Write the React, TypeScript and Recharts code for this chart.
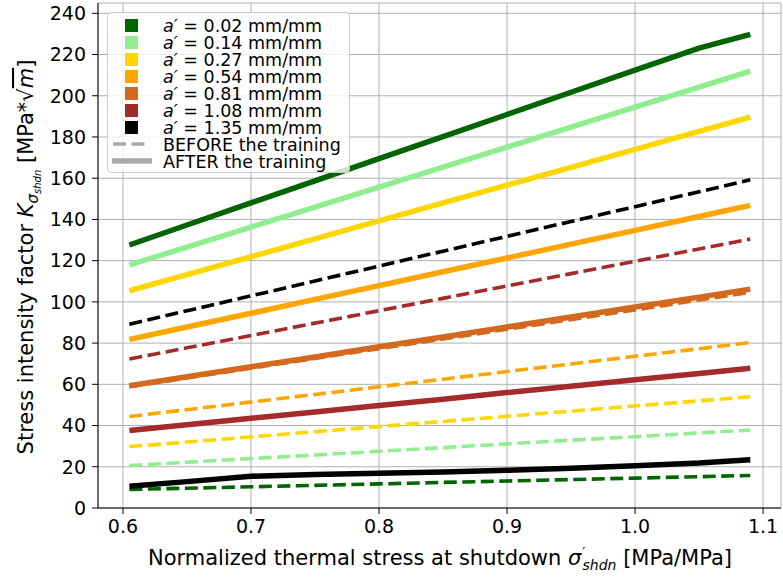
import { CartesianGrid, Label, Legend, Line, LineChart, XAxis, YAxis } from "recharts";

const FONT = "DejaVu Sans, sans-serif";

const STRESS = [0.605, 0.65, 0.7, 0.75, 0.8, 0.85, 0.9, 0.95, 1.0, 1.05, 1.09];
const CRACK_DEPTHS = ["0.02", "0.14", "0.27", "0.54", "0.81", "1.08", "1.35"];
const COLORS = ["#006400", "#90ee90", "#ffd700", "#ffa500", "#d2691e", "#a52a2a", "#000000"];

// K before the training (dashed)
const BEFORE_002 = [9.0, 9.6, 10.3, 11.0, 11.7, 12.4, 13.1, 13.8, 14.5, 15.2, 15.8];
const BEFORE_014 = [20.6, 22.2, 24.0, 25.7, 27.5, 29.3, 31.1, 32.9, 34.6, 36.4, 37.8];
const BEFORE_027 = [29.8, 32.0, 34.5, 37.0, 39.5, 42.0, 44.5, 47.0, 49.5, 52.0, 54.0];
const BEFORE_054 = [44.4, 47.7, 51.4, 55.1, 58.8, 62.5, 66.2, 69.9, 73.6, 77.3, 80.3];
const BEFORE_081 = [58.8, 63.1, 67.8, 72.6, 77.3, 82.0, 86.7, 91.4, 96.1, 100.9, 104.6];
const BEFORE_108 = [72.3, 77.7, 83.7, 89.7, 95.7, 101.7, 107.7, 113.7, 119.7, 125.7, 130.5];
const BEFORE_135 = [89.2, 95.7, 102.9, 110.1, 117.4, 124.6, 131.8, 139.0, 146.2, 153.4, 159.2];

// K after the training (solid)
const AFTER_002 = [127.6, 137.3, 148.0, 158.7, 169.5, 180.2, 190.9, 201.7, 212.4, 223.1, 229.8];
const AFTER_014 = [117.9, 126.6, 136.3, 146.0, 155.7, 165.4, 175.1, 184.8, 194.5, 204.2, 212.0];
const AFTER_027 = [105.4, 113.2, 121.9, 130.6, 139.3, 148.0, 156.6, 165.3, 174.0, 182.7, 189.6];
const AFTER_054 = [81.8, 87.8, 94.5, 101.2, 107.9, 114.6, 121.3, 128.0, 134.7, 141.4, 146.8];
const AFTER_081 = [59.3, 63.7, 68.5, 73.3, 78.2, 83.0, 87.8, 92.7, 97.5, 102.3, 106.2];
const AFTER_108 = [37.6, 40.4, 43.5, 46.6, 49.7, 52.8, 56.0, 59.1, 62.2, 65.3, 67.8];
const AFTER_135 = [10.5, 12.8, 15.4, 16.3, 16.9, 17.5, 18.3, 19.3, 20.5, 21.8, 23.4];

const X_TICKS = [0.6, 0.7, 0.8, 0.9, 1.0, 1.1];
const Y_TICKS = [0, 20, 40, 60, 80, 100, 120, 140, 160, 180, 200, 220, 240];

const BEFORE = [BEFORE_002, BEFORE_014, BEFORE_027, BEFORE_054, BEFORE_081, BEFORE_108, BEFORE_135];
const AFTER = [AFTER_002, AFTER_014, AFTER_027, AFTER_054, AFTER_081, AFTER_108, AFTER_135];

const data = STRESS.map((x, i) => {
  const row: Record<string, number> = { x };
  BEFORE.forEach((s, k) => (row[`b${k}`] = s[i]));
  AFTER.forEach((s, k) => (row[`a${k}`] = s[i]));
  return row;
});

const tickStyle = { fill: "#000", fontSize: 19, fontFamily: FONT };

function LegendBox() {
  return (
    <div
      style={{
        width: 243,
        height: 161,
        border: "1px solid #cccccc",
        borderRadius: 4,
        background: "rgba(255,255,255,0.8)",
        boxSizing: "border-box",
      }}
    >
      <svg width={241} height={159} style={{ display: "block" }} fontFamily={FONT} fontSize={17.5}>
        {CRACK_DEPTHS.map((a, k) => (
          <rect key={a} x={17} y={6 + k * 17} width={13} height={13} fill={COLORS[k]} />
        ))}
        <line x1={5} x2={37} y1={131} y2={131} stroke="#a9a9a9" strokeWidth={3.6} strokeDasharray="13 5.5" />
        <line x1={4} x2={44} y1={148} y2={148} stroke="#a9a9a9" strokeWidth={5.5} />
        <text y={19} fill="#000">
          {CRACK_DEPTHS.map((a, k) => (
            <tspan key={a} x={55} dy={k === 0 ? 0 : 17}>
              <tspan fontStyle="italic">a′</tspan> = {a} mm/mm
            </tspan>
          ))}
          <tspan x={55} dy={17}>BEFORE the training</tspan>
          <tspan x={55} dy={17}>AFTER the training</tspan>
        </text>
      </svg>
    </div>
  );
}

function XTitle() {
  return (
    <text x={440} y={565} textAnchor="middle" fontFamily={FONT} fontSize={21} fill="#000">
      Normalized thermal stress at shutdown{" "}
      <tspan fontStyle="italic">σ</tspan>
      <tspan fontSize={14} dx={1} dy={-8}>′</tspan>
      <tspan fontSize={14} fontStyle="italic" dx={-3} dy={13}>shdn</tspan>
      <tspan dy={-5}> [MPa/MPa]</tspan>
    </text>
  );
}

function YTitle() {
  return (
    <text
      x={33}
      y={257}
      transform="rotate(-90, 33, 257)"
      textAnchor="middle"
      fontFamily={FONT}
      fontSize={21}
      fill="#000"
    >
      Stress intensity factor <tspan fontStyle="italic">K</tspan>
      <tspan fontStyle="italic" fontSize={15} dy={5}>σ</tspan>
      <tspan fontStyle="italic" fontSize={10} dy={3}>shdn</tspan>
      <tspan dy={-8}> [MPa*√</tspan>
      <tspan fontStyle="italic" textDecoration="overline">m</tspan>
      <tspan>]</tspan>
    </text>
  );
}

export default function App() {
  return (
    <div style={{ position: "absolute", left: 0, top: 0, background: "#fff" }}>
      <LineChart width={783} height={579} data={data} margin={{ top: 3, right: 2, bottom: 0, left: 0 }}>
        <CartesianGrid stroke="#b0b0b0" strokeWidth={1} />
        <XAxis
          dataKey="x"
          type="number"
          domain={[0.5805, 1.114]}
          ticks={X_TICKS}
          tickFormatter={(v: number) => v.toFixed(1)}
          allowDataOverflow
          height={71}
          tick={tickStyle}
          tickSize={6}
          tickMargin={6}
          tickLine={{ stroke: "#000" }}
          axisLine={{ stroke: "#000" }}
        >
          <Label content={XTitle} />
        </XAxis>
        <XAxis
          xAxisId="top"
          orientation="top"
          type="number"
          dataKey="x"
          domain={[0.5805, 1.114]}
          height={0}
          tick={false}
          tickLine={false}
          axisLine={{ stroke: "#000" }}
        />
        <YAxis
          type="number"
          domain={[0, 245]}
          ticks={Y_TICKS}
          allowDataOverflow
          width={98}
          tick={tickStyle}
          tickSize={6}
          tickMargin={6}
          tickLine={{ stroke: "#000" }}
          axisLine={{ stroke: "#000" }}
        >
          <Label content={YTitle} />
        </YAxis>
        <YAxis
          yAxisId="right"
          orientation="right"
          type="number"
          domain={[0, 245]}
          width={0}
          tick={false}
          tickLine={false}
          axisLine={{ stroke: "#000" }}
        />
        <Legend
          layout="horizontal"
          align="center"
          verticalAlign="middle"
          content={LegendBox}
          wrapperStyle={{ left: 107, top: 12, width: 243, height: 161 }}
        />
        {CRACK_DEPTHS.map((a, k) => (
          <Line
            key={`b${k}`}
            type="linear"
            dataKey={`b${k}`}
            stroke={COLORS[k]}
            strokeWidth={3.6}
            strokeDasharray="13 5.5"
            dot={false}
            isAnimationActive={false}
          />
        ))}
        {CRACK_DEPTHS.map((a, k) => (
          <Line
            key={`a${k}`}
            type="linear"
            dataKey={`a${k}`}
            stroke={COLORS[k]}
            strokeWidth={5.5}
            dot={false}
            isAnimationActive={false}
          />
        ))}
      </LineChart>
    </div>
  );
}
